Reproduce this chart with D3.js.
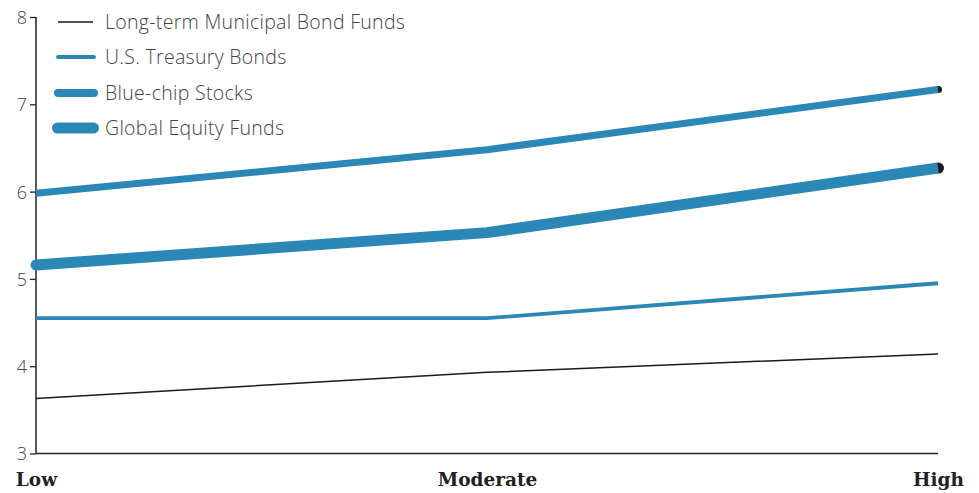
<!DOCTYPE html>
<html>
<head>
<meta charset="utf-8">
<script src="https://cdn.jsdelivr.net/npm/d3@7/dist/d3.min.js"></script>
<style>
  html, body { margin: 0; padding: 0; background: #fff; }
  svg { display: block; }
</style>
</head>
<body>
<svg id="chart" width="979" height="493"></svg>
<script>
// Risk level categories along the x axis
const categories = ["Low", "Moderate", "High"];

// Expected return by risk level for each asset type
const municipalBonds = [3.63, 3.93, 4.14];
const treasuryBonds = [4.55, 4.55, 4.95];
const blueChipStocks = [5.98, 6.48, 7.17];
const globalEquity = [5.16, 5.53, 6.27];

const seriesNames = ["Long-term Municipal Bond Funds", "U.S. Treasury Bonds", "Blue-chip Stocks", "Global Equity Funds"];
const yTicks = [3, 4, 5, 6, 7, 8];

const blue = "#2b88b6";
const series = [
  { name: seriesNames[0], values: municipalBonds, color: "#1a1a1a", width: 1.5, legendWidth: 1.5, cap: false },
  { name: seriesNames[1], values: treasuryBonds, color: blue, width: 3.8, legendWidth: 4, cap: false },
  { name: seriesNames[2], values: blueChipStocks, color: blue, width: 7, legendWidth: 8, cap: true },
  { name: seriesNames[3], values: globalEquity, color: blue, width: 11, legendWidth: 11, cap: true, startRound: true }
];

const svg = d3.select("#chart");

const x = d3.scalePoint().domain(categories).range([36, 938]);
const y = d3.scaleLinear().domain([3, 8]).range([453.5, 17]);

// Y axis
const yAxis = d3.axisLeft(y).tickValues(yTicks).tickSize(6).tickFormat(d3.format("d"));
const gy = svg.append("g").attr("transform", "translate(36,0)").call(yAxis);
gy.select(".domain").attr("stroke", "#222").attr("stroke-width", 1.5).attr("d", `M0,${y(3)}V${y(8)}`);
gy.selectAll(".tick line").attr("stroke", "#222").attr("stroke-width", 1.3);
gy.selectAll(".tick text")
  .attr("x", -9)
  .attr("dy", "0.36em")
  .attr("fill", "#444")
  .style("font-family", "'Open Sans', sans-serif")
  .style("font-weight", 300)
  .style("font-size", "18px");

// X axis baseline with category labels
const xAxis = d3.axisBottom(x).tickSize(0).tickPadding(19);
const gx = svg.append("g").attr("transform", `translate(0,${y(3)})`).call(xAxis);
gx.select(".domain").attr("stroke", "#222").attr("stroke-width", 1.5).attr("d", `M${x("Low")},0H${x("High")}`);
gx.selectAll(".tick text")
  .attr("fill", "#222")
  .style("font-family", "'DejaVu Serif', serif")
  .style("font-weight", 700)
  .style("font-size", "18.5px");

// Lines
const line = d3.line()
  .x((d, i) => x(categories[i]))
  .y(d => y(d));

const gLines = svg.append("g");
series.forEach(s => {
  const n = s.values.length;
  if (s.cap) {
    // dark rounded end at the high-risk point
    gLines.append("circle")
      .attr("cx", x(categories[n - 1]) + 0.5)
      .attr("cy", y(s.values[n - 1]))
      .attr("r", s.width / 2)
      .attr("fill", "#1c1c1c");
  }
  if (s.startRound) {
    gLines.append("circle")
      .attr("cx", x(categories[0]))
      .attr("cy", y(s.values[0]))
      .attr("r", s.width / 2)
      .attr("fill", s.color);
  }
  gLines.append("path")
    .datum(s.values)
    .attr("d", line)
    .attr("fill", "none")
    .attr("stroke", s.color)
    .attr("stroke-width", s.width)
    .attr("stroke-linecap", "butt")
    .attr("stroke-linejoin", "round");
});

// Legend
const legendRows = [22, 57, 93, 128];
const swatch = [[58, 93], [58, 94], [58, 94], [57.5, 93.5]];
const gLegend = svg.append("g");
series.forEach((s, i) => {
  const g = gLegend.append("g").attr("transform", `translate(0,${legendRows[i]})`);
  g.append("line")
    .attr("x1", swatch[i][0]).attr("x2", swatch[i][1])
    .attr("y1", 0).attr("y2", 0)
    .attr("stroke", s.color)
    .attr("stroke-width", s.legendWidth)
    .attr("stroke-linecap", i === 0 ? "butt" : "round");
  g.append("text")
    .attr("x", 105)
    .attr("y", 0)
    .attr("dy", "0.35em")
    .attr("fill", "#444")
    .style("font-family", "'Open Sans', sans-serif")
    .style("font-weight", 300)
    .style("font-size", "19.5px")
    .style("letter-spacing", "0.3px")
    .text(s.name);
});
</script>
</body>
</html>
